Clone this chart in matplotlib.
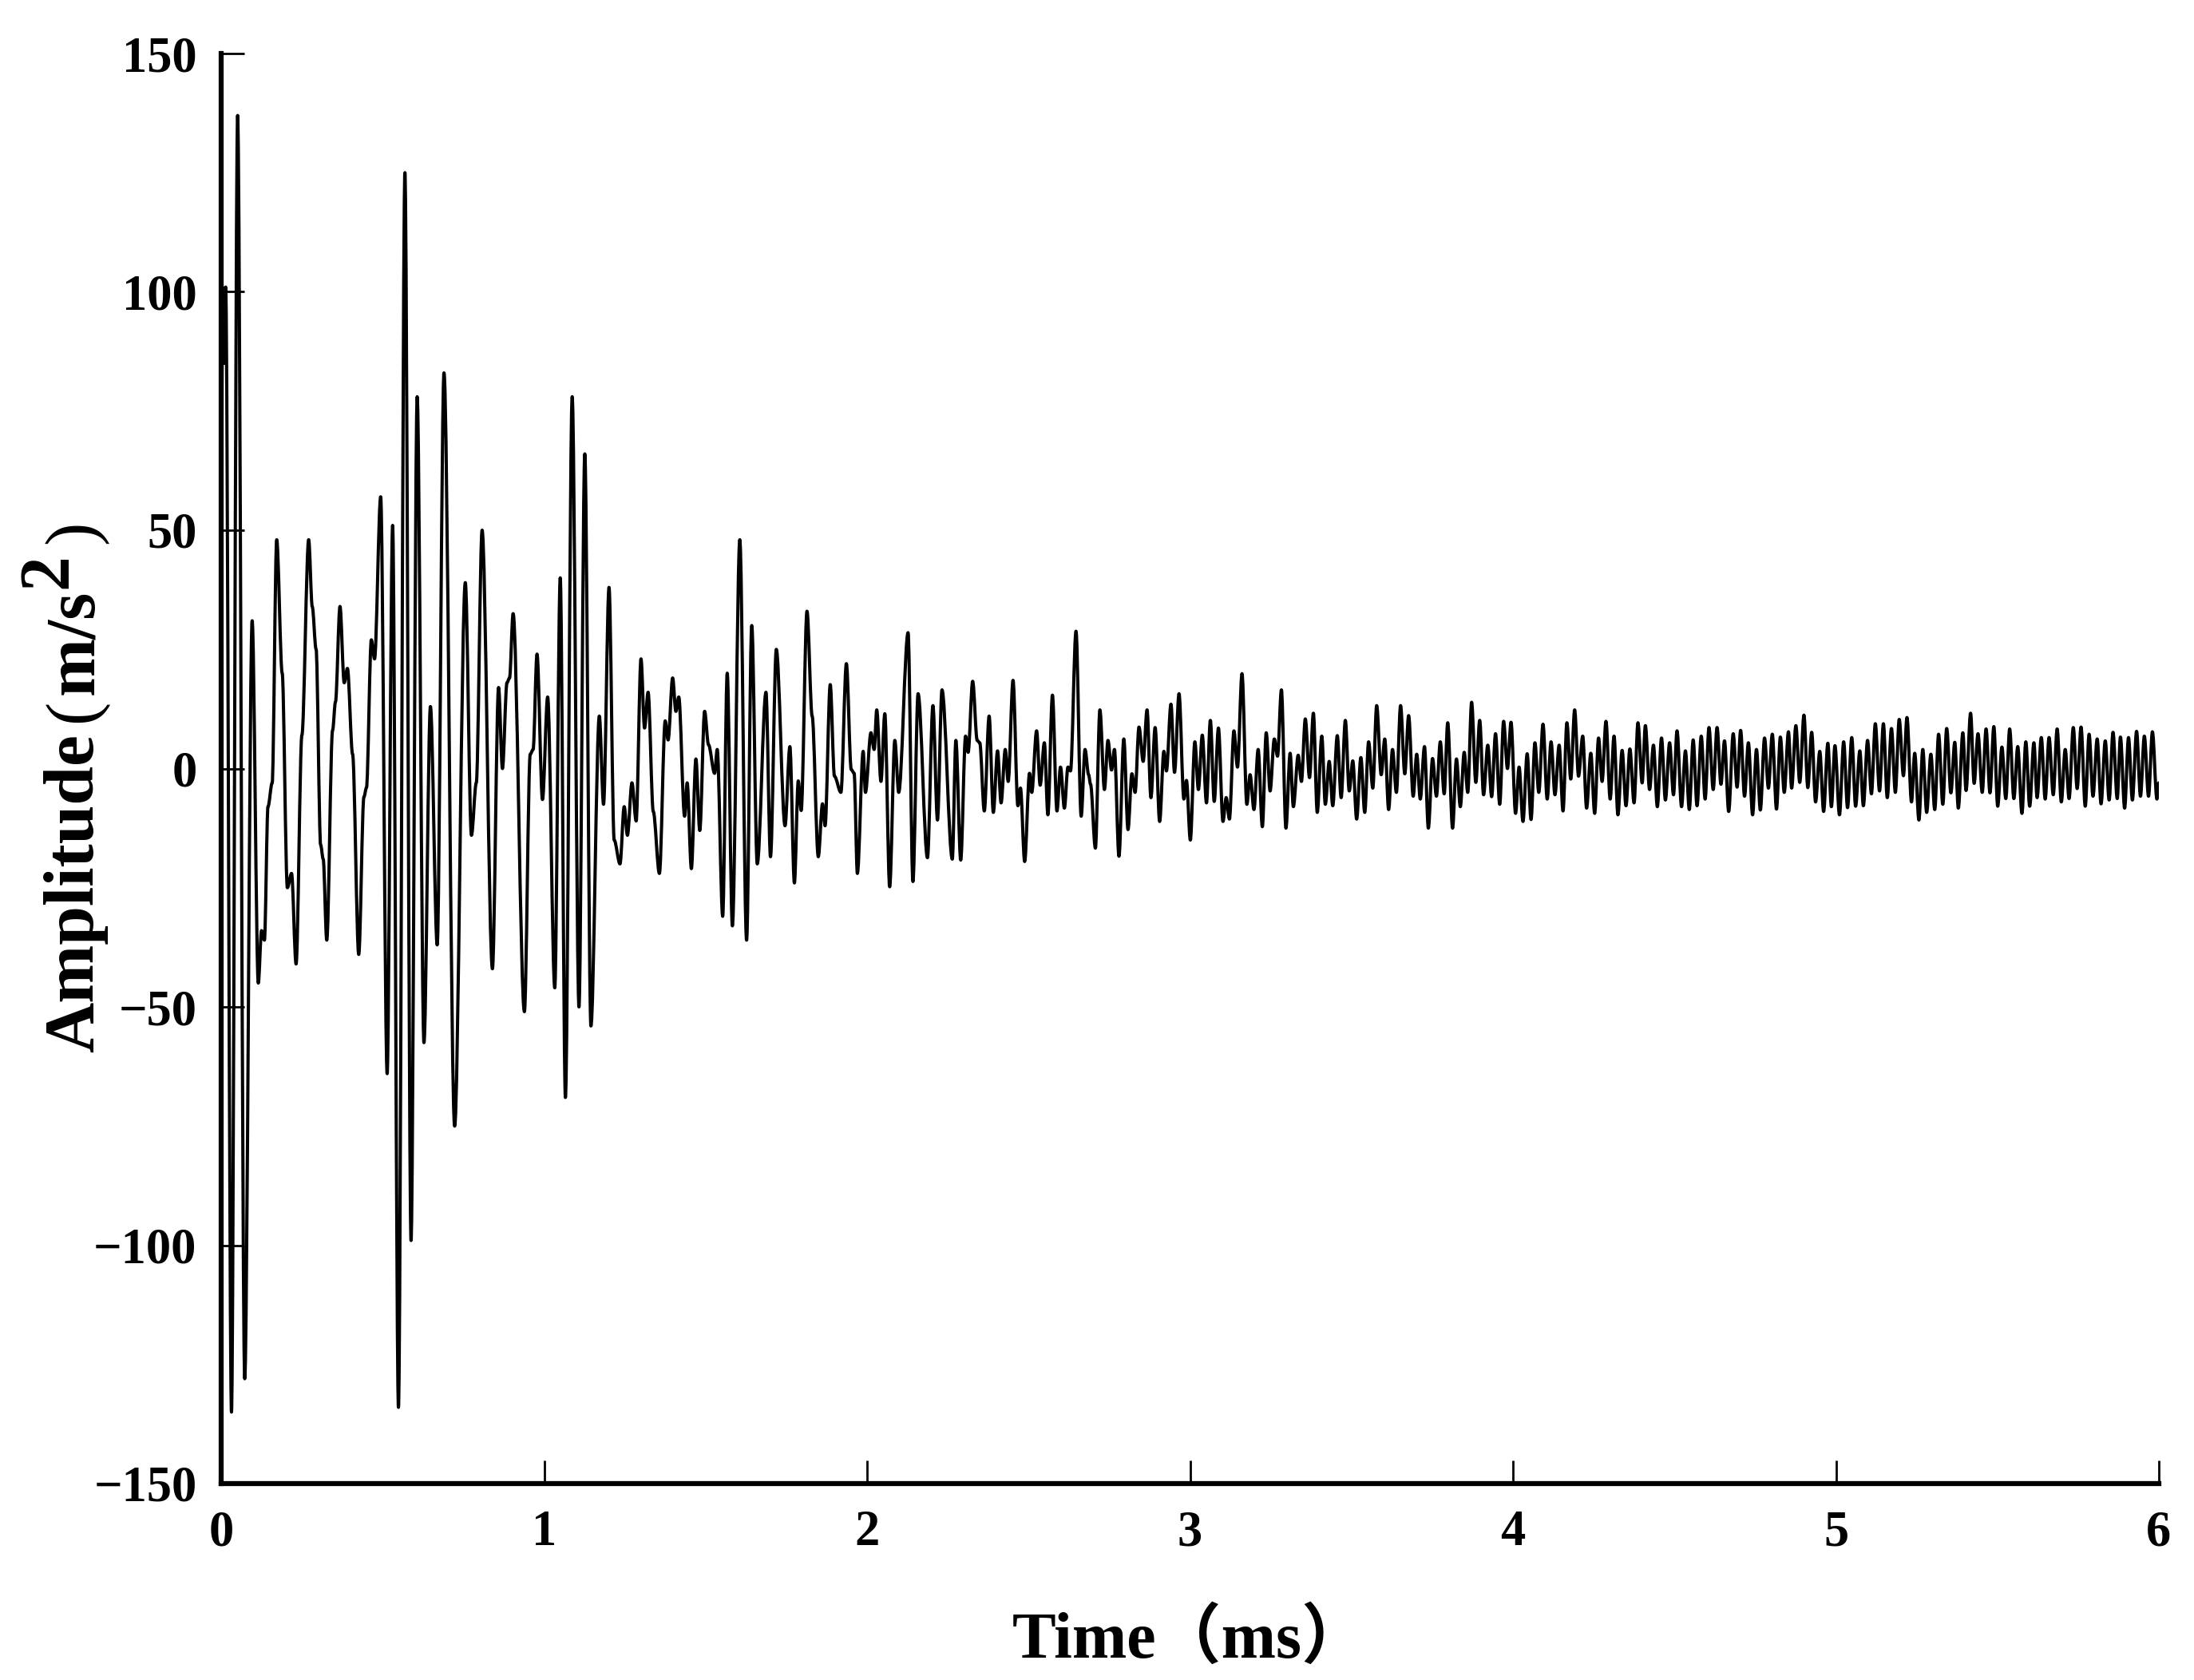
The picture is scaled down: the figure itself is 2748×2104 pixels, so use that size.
import matplotlib
matplotlib.use("Agg")
import matplotlib.pyplot as plt
from matplotlib.path import Path
from matplotlib.patches import PathPatch
import numpy as np

# ---- data: (time in ms, amplitude in m/s^2) extrema ----
seg_a = [(0.000, 20), (0.004, 101), (0.009, 85), (0.014, 101), (0.032, -135), (0.051, 137),
         (0.073, -128), (0.096, 31), (0.115, -45), (0.125, -34), (0.134, -36), (0.145, -8),
         (0.158, -3), (0.172, 48), (0.189, 20), (0.205, -25), (0.218, -22), (0.232, -41),
         (0.250, 7), (0.271, 48), (0.282, 34), (0.294, 25), (0.308, -16), (0.316, -19),
         (0.327, -36), (0.345, 8), (0.354, 14), (0.368, 34), (0.381, 18), (0.391, 21),
         (0.407, 3), (0.426, -39), (0.442, -6), (0.450, -4), (0.465, 27), (0.475, 23),
         (0.494, 57), (0.514, -64), (0.531, 51), (0.549, -134), (0.569, 125), (0.588, -99),
         (0.607, 78)]
seg_b = [(0.628, -57.5), (0.648, 13), (0.669, -37), (0.690, 83), (0.723, -75), (0.756, 39),
         (0.775, -14), (0.790, -3), (0.808, 50), (0.840, -42), (0.859, 17), (0.871, 0),
         (0.885, 18), (0.893, 19), (0.904, 32.5), (0.939, -51), (0.957, 3), (0.966, 4),
         (0.978, 24), (0.995, -6.5), (1.011, 15), (1.033, -46), (1.050, 40), (1.066, -69),
         (1.087, 78), (1.108, -50), (1.126, 66), (1.145, -54), (1.171, 11), (1.184, -7.5),
         (1.201, 38), (1.217, -15), (1.235, -20), (1.248, -8), (1.258, -14), (1.272, -3),
         (1.285, -11)]
seg_c = [(1.300, 23), (1.311, 8.5), (1.322, 16), (1.338, -9), (1.357, -22), (1.375, 10),
         (1.384, 6), (1.398, 19), (1.408, 12), (1.417, 15), (1.435, -10), (1.443, -3),
         (1.456, -21), (1.470, 2), (1.482, -13), (1.497, 12), (1.509, 5), (1.528, -1),
         (1.536, 4), (1.553, -31), (1.567, 20), (1.583, -33), (1.606, 48), (1.627, -36),
         (1.643, 30), (1.660, -20), (1.687, 16), (1.701, -18.5), (1.719, 25), (1.746, -12),
         (1.761, 4.6), (1.775, -24), (1.787, -2.6), (1.796, -8.8), (1.814, 33), (1.830, 11),
         (1.849, -18.5), (1.862, -7.4), (1.870, -12), (1.886, 17.6), (1.899, -1.6),
         (1.919, -5), (1.936, 22), (1.951, -0.2), (1.960, -1), (1.970, -22), (1.988, 3.6),
         (1.995, -5), (2.012, 7.5), (2.022, 4), (2.030, 12.3)]
seg_d = [(2.043, -2.7), (2.055, 11.5), (2.070, -24.8), (2.086, 5.9), (2.098, -5), (2.127, 28.5),
         (2.142, -23.7), (2.158, 15.7), (2.187, -18.7), (2.204, 13.2), (2.218, -10.8),
         (2.232, 16.5), (2.264, -19), (2.275, 5.9), (2.290, -19.2), (2.305, 6.8), (2.313, 3.4),
         (2.327, 18.3), (2.341, 5.9), (2.349, 5.4), (2.363, -8.9), (2.378, 11), (2.391, -9.2),
         (2.404, 3.7), (2.415, -7.2), (2.428, 4), (2.437, -2.7), (2.452, 18.5), (2.467, -7.8),
         (2.475, -4.1), (2.488, -19.5), (2.503, -1), (2.510, -5), (2.525, 7.9), (2.536, -3.5),
         (2.549, 5.4), (2.560, -9.7), (2.574, 15.4), (2.588, -8.9), (2.599, 0.3), (2.611, -8.3),
         (2.622, 0.3), (2.630, -0.5), (2.647, 28.8), (2.663, -10), (2.675, 4), (2.686, -1.3),
         (2.692, -3.3), (2.707, -16.7), (2.721, 12.3), (2.735, -4.4), (2.746, 5.9),
         (2.757, -0.3), (2.766, 4)]
seg_e = [(2.780, -18.4), (2.795, 6.2), (2.808, -12.8), (2.820, -1.1), (2.830, -5), (2.842, 8.7),
         (2.855, 1.5), (2.867, 12.3), (2.879, -6.1), (2.892, 8.6), (2.906, -11.1), (2.919, 3.6),
         (2.927, -0.5), (2.941, 13.5), (2.952, -0.8), (2.966, 15.7), (2.981, -6.4), (2.989, -2.5),
         (3.001, -15), (3.015, 5.6), (3.026, -4.4), (3.038, 7), (3.051, -7.2), (3.063, 10.1),
         (3.075, -6.9), (3.088, 8.5), (3.102, -11.1), (3.112, -6.1), (3.122, -10.6),
         (3.136, 7.9), (3.147, 0.3), (3.161, 19.9), (3.176, -7.5), (3.186, -1.3), (3.198, -8.6),
         (3.211, 4), (3.224, -12.2), (3.236, 7.5), (3.248, -4.7), (3.261, 6.2), (3.271, 2.6),
         (3.283, 16.5), (3.297, -12.5), (3.310, 3.2), (3.320, -8), (3.335, 2.8), (3.345, -2.7),
         (3.357, 10.4), (3.370, -1.9), (3.382, 11.6), (3.394, -9.2), (3.408, 6.8), (3.419, -7.5),
         (3.431, 1.5), (3.442, -7.8), (3.456, 6.9), (3.468, -6.1), (3.481, 10.1), (3.493, -4.7),
         (3.504, 1.6), (3.516, -10.6)]
seg_f = [(3.529, 2.3), (3.541, -9.2), (3.553, 5.6), (3.566, -4.1), (3.578, 13.2), (3.592, -1.3),
         (3.603, 6.2), (3.615, -8.6), (3.627, 4), (3.639, -5), (3.652, 13.2), (3.665, -1.1),
         (3.677, 11.1), (3.691, -5.8), (3.702, 3), (3.713, -6.4), (3.726, 4.6), (3.738, -12.5),
         (3.751, 2.1), (3.763, -5.8), (3.775, 5.6), (3.787, -5.3), (3.798, 9.6), (3.813, -12.5),
         (3.825, 2), (3.837, -8), (3.849, 3.4), (3.860, -5), (3.872, 13.9), (3.885, -2.9),
         (3.897, 10.1), (3.909, -5.5), (3.922, 4.9), (3.934, -5.9), (3.946, 7.3), (3.959, -7.5),
         (3.971, 9.9), (3.983, 0), (3.994, 9.7), (4.008, -9.4), (4.019, 0.3), (4.031, -11.1),
         (4.044, 3.1), (4.056, -10.7), (4.068, 5.4), (4.080, -5), (4.093, 9.3), (4.106, -6.4),
         (4.118, 5.6), (4.130, -5.5), (4.143, 4.9), (4.155, -8.9), (4.167, 9.6), (4.179, -2.2),
         (4.191, 12.3), (4.203, -1.6), (4.216, 6.8), (4.228, -8.3), (4.241, 3.2), (4.253, -9.4)]
seg_g = [(4.265, 6.4), (4.276, -2.7), (4.288, 9.9), (4.301, -6.4), (4.313, 6.8), (4.325, -9.7),
         (4.338, 3.8), (4.350, -7.8), (4.362, 4.1), (4.375, -7.2), (4.387, 9.6), (4.400, -3),
         (4.410, 9), (4.423, -4.4), (4.435, 4.9), (4.447, -8), (4.460, 6.4), (4.472, -6.6),
         (4.485, 5.4), (4.497, -5.5), (4.508, 7.9), (4.522, -8), (4.534, 3.7), (4.546, -8.6),
         (4.558, 6), (4.570, -7.8), (4.583, 6.8), (4.595, -6.4), (4.607, 8.6), (4.620, -4.4),
         (4.632, 8.6), (4.644, -3.3), (4.655, 5.8), (4.668, -9), (4.682, 7.3), (4.694, -3.9),
         (4.705, 8), (4.717, -5.8), (4.729, 5.4), (4.742, -9.7), (4.754, 4), (4.766, -8.7),
         (4.779, 6.4), (4.791, -4.1), (4.803, 7.2), (4.816, -8.5), (4.828, 6.6), (4.840, -5),
         (4.853, 7.7), (4.863, -4.1), (4.876, 9), (4.888, -2.9), (4.901, 11.2), (4.913, -4),
         (4.925, 7.6), (4.937, -7), (4.950, 3.6), (4.962, -9), (4.975, 5.3), (4.986, -8),
         (4.997, 4.8)]
seg_h = [(5.011, -9.7), (5.024, 5.6), (5.036, -8.2), (5.049, 6.5), (5.061, -7.9), (5.074, 3.7),
         (5.085, -7.8), (5.098, 5.9), (5.110, -5.3), (5.122, 9.4), (5.135, -4.7), (5.147, 9.4),
         (5.159, -6.1), (5.172, 8.4), (5.184, -5), (5.196, 10.3), (5.209, -1.5), (5.220, 10.7),
         (5.234, -7), (5.244, 3.2), (5.257, -10.8), (5.269, 4), (5.281, -9.2), (5.294, 3),
         (5.306, -8.6), (5.318, 7.2), (5.331, -7.5), (5.343, 8.4), (5.356, -5.1), (5.368, 5.5),
         (5.379, -8.3), (5.393, 7.5), (5.403, -4.6), (5.417, 11.6), (5.428, -3.1), (5.440, 7.3),
         (5.453, -5), (5.465, 8.3), (5.477, -5.1), (5.489, 8.8), (5.501, -7.9), (5.514, 4.5),
         (5.526, -6.3), (5.538, 8.3), (5.551, -6.3), (5.563, 4.6), (5.576, -9.4), (5.588, 5.6),
         (5.600, -7.9), (5.613, 5.4), (5.623, -6.1), (5.636, 6.5), (5.648, -6.4), (5.660, 6.5),
         (5.673, -5.5), (5.685, 8.3), (5.698, -7), (5.710, 4), (5.722, -6.3), (5.735, 8.6),
         (5.747, -4.2), (5.759, 8.7), (5.772, -7.9), (5.784, 7.2), (5.796, -5.8), (5.809, 6.2),
         (5.821, -7.4), (5.834, 5.8), (5.846, -6.6), (5.858, 7.6), (5.871, -6.3), (5.881, 6.6),
         (5.894, -8.3), (5.906, 6.5), (5.918, -6.6), (5.931, 7.8), (5.943, -5.8), (5.955, 6.8),
         (5.968, -5.8), (5.980, 7.7), (5.994, -6.4), (6.000, -3)]

x_ticks = [0, 1, 2, 3, 4, 5, 6]
y_ticks = [-150, -100, -50, 0, 50, 100, 150]
x_label = "Time（ms）"
# rotated y label built from pieces: (text, bold?, raised superscript?)
y_label_parts = [("Amplitude", True, False), ("(", False, False), ("m/s", True, False),
                 ("2", True, True), (")", False, False)]

segments = [seg_a, seg_b, seg_c, seg_d, seg_e, seg_f, seg_g, seg_h]
pts = np.array([p for s in segments for p in s])
t, amp = pts[:, 0], pts[:, 1]

serif = ["Liberation Serif", "Noto Sans CJK SC", "DejaVu Sans"]
plt.rcParams["font.family"] = serif

W, H = 2748, 2104
fig = plt.figure(figsize=(W / 100, H / 100), dpi=100)
ax = fig.add_axes([277 / W, 1 - 1858 / H, (2704 - 277) / W, (1858 - 67) / H])

# smooth trace: cubic segments with flat tangents at each read extremum
verts = [(t[0], amp[0])]
codes = [Path.MOVETO]
for i in range(1, len(t)):
    dt = t[i] - t[i - 1]
    verts += [(t[i - 1] + dt / 3, amp[i - 1]), (t[i] - dt / 3, amp[i]), (t[i], amp[i])]
    codes += [Path.CURVE4] * 3
ax.add_patch(PathPatch(Path(verts, codes), facecolor="none", edgecolor="black",
                       linewidth=2.9, joinstyle="round", capstyle="round",
                       transform=ax.transData))

ax.set_xlim(0, 6)
ax.set_ylim(-150, 150)
ax.set_xticks(x_ticks)
ax.set_yticks(y_ticks)
ax.set_xticklabels([str(v) for v in x_ticks])
ax.set_yticklabels([("−" + str(-v)) if v < 0 else str(v) for v in y_ticks])

for side in ["top", "right"]:
    ax.spines[side].set_visible(False)
for side in ["left", "bottom"]:
    ax.spines[side].set_linewidth(4.5)

ax.tick_params(axis="both", direction="in", length=21, width=2.0, labelsize=45)
ax.tick_params(axis="x", pad=24)
ax.tick_params(axis="y", pad=22)
for lab in ax.get_xticklabels() + ax.get_yticklabels():
    lab.set_fontweight("bold")
    lab.set_family(serif)

renderer = fig.canvas.get_renderer()

# x label (single horizontal string)
fig.text(1268, H - 2076, x_label, fontsize=59, fontweight="bold", family=serif,
         ha="left", va="baseline", transform=None)

# y label: rotated pieces stacked upward, sharing a vertical baseline
y_gaps = [0, 14, 6, 2, 12]
pieces = [fig.text(0, 0, s, fontsize=63, fontweight="bold" if b else "normal",
                   family=serif, rotation=90, rotation_mode="anchor",
                   ha="left", va="baseline", transform=None)
          for s, b, _ in y_label_parts]
heights = [p.get_window_extent(renderer).height for p in pieces]
total = sum(heights) + sum(y_gaps)
y0 = (H - 985) - total / 2
base_x, raise_px = 116, 34
for p, h, g, (_, _, sup) in zip(pieces, heights, y_gaps, y_label_parts):
    y0 += g
    p.set_position((base_x - (raise_px if sup else 0), y0))
    y0 += h

fig.savefig("out.png", dpi=100)
